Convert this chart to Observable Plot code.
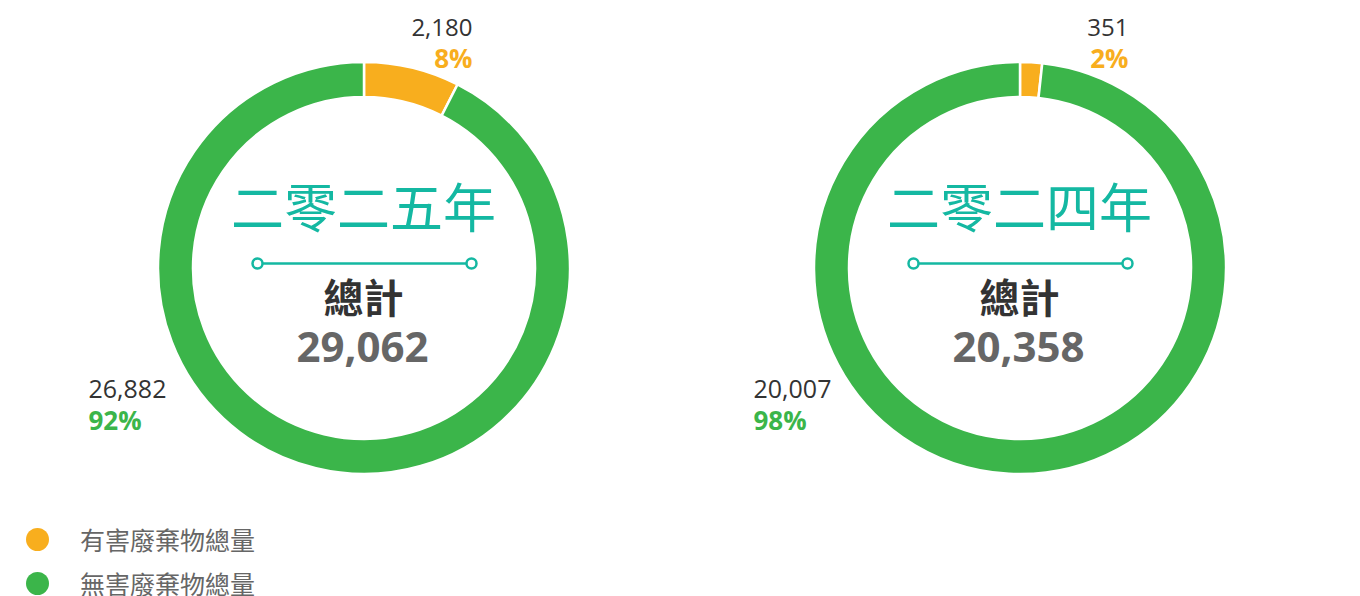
<!DOCTYPE html>
<html>
<head>
<meta charset="utf-8">
<script src="https://cdn.jsdelivr.net/npm/d3@7"></script>
<script src="https://cdn.jsdelivr.net/npm/@observablehq/plot@0.6"></script>
<style>
  body { margin: 0; background: #fff; font-family: "Open Sans", "Noto Sans CJK TC", sans-serif; }
  #row { display: flex; width: 1360px; }
  #legend { padding-top: 17px; }
  .item { display: flex; align-items: center; height: 44px; }
  .sw { width: 23px; height: 23px; border-radius: 50%; margin-left: 26px; margin-right: 31px; }
  .lab { font-family: "Noto Sans CJK TC", sans-serif; font-size: 25px; line-height: 25px; color: #666; }
</style>
</head>
<body>
<div id="row"></div>
<div id="legend"></div>
<script>
// ---- data ----
const years = ["二零二五年", "二零二四年"];
const types = ["有害廢棄物總量", "無害廢棄物總量"];
const hazardous = [2180, 351];
const nonHazardous = [26882, 20007];
const totals = [29062, 20358];
const hazardousPct = ["8%", "2%"];
const nonHazardousPct = ["92%", "98%"];
const totalLabel = "總計";
const colors = ["#F8AE1E", "#3BB54A"];
const teal = "#14B8A2";

// ---- layout constants (pixels relative to each donut centre) ----
const W = 680, H = 500, CY = 268;
const outerR = 206, innerR = 171;
const fontCJK = "Noto Sans CJK TC, sans-serif";
const fontLatin = "Open Sans, Noto Sans CJK TC, sans-serif";
const greenLabelX = [-276, -267];
const fmt = d3.format(",");

function donutPlot(i, cx) {
  const data = [
    {type: types[0], value: hazardous[i]},
    {type: types[1], value: nonHazardous[i]}
  ];
  const arcs = d3.pie().sort(null).value(d => d.value)(data);
  const arcGen = d3.arc();
  const donut = Plot.dot(arcs, {
    x: () => 0, y: () => 0, fill: d => d.data.type,
    render(index, scales, values) {
      const k = scales.x(1) - scales.x(0);
      const g = d3.create("svg:g");
      for (const j of index) {
        g.append("path")
          .attr("d", arcGen({innerRadius: innerR * k, outerRadius: outerR * k,
                             startAngle: arcs[j].startAngle, endAngle: arcs[j].endAngle}))
          .attr("transform", `translate(${values.x[j]},${values.y[j]})`)
          .attr("fill", values.fill[j])
          .attr("stroke", "white").attr("stroke-width", 2.5);
      }
      return g.node();
    }
  });
  const ends = [{x: -107}, {x: 107}];
  return Plot.plot({
    width: W, height: H,
    margin: 0,
    x: {domain: [-cx, W - cx], axis: null},
    y: {domain: [CY - H, CY], axis: null},
    color: {domain: types, range: colors},
    marks: [
      donut,
      Plot.text([years[i]], {x: -1, y: 57, text: d => d, fontSize: 53, fill: teal, fontFamily: fontCJK}),
      Plot.ruleY([5], {x1: -107, x2: 107, stroke: teal, strokeWidth: 2.5}),
      Plot.dot(ends, {x: "x", y: () => 5, r: 5, fill: "white", stroke: teal, strokeWidth: 2.5}),
      Plot.text([totalLabel], {x: -1, y: -32, text: d => d, fontSize: 40, fontWeight: "bold", fill: "#333", fontFamily: fontCJK}),
      Plot.text([totals[i]], {x: -2, y: -80, text: d => fmt(d), fontSize: 42, fontWeight: "bold", fill: "#666", fontFamily: fontLatin}),
      Plot.text([hazardous[i]], {x: 108, y: 240, text: d => fmt(d), textAnchor: "end", fontSize: 24, fill: "#333", fontFamily: fontLatin}),
      Plot.text([hazardousPct[i]], {x: 108, y: 209, text: d => d, textAnchor: "end", fontSize: 26, fontWeight: "bold", fill: colors[0], fontFamily: fontLatin}),
      Plot.text([nonHazardous[i]], {x: greenLabelX[i], y: -121, text: d => fmt(d), textAnchor: "start", fontSize: 25, fill: "#333", fontFamily: fontLatin}),
      Plot.text([nonHazardousPct[i]], {x: greenLabelX[i], y: -153, text: d => d, textAnchor: "start", fontSize: 26, fontWeight: "bold", fill: colors[1], fontFamily: fontLatin})
    ]
  });
}

const row = document.getElementById("row");
row.append(donutPlot(0, 364));
row.append(donutPlot(1, 340));

const legend = document.getElementById("legend");
types.forEach((t, k) => {
  const item = document.createElement("div");
  item.className = "item";
  const sw = document.createElement("div");
  sw.className = "sw"; sw.style.background = colors[k];
  const lab = document.createElement("span");
  lab.className = "lab"; lab.textContent = t;
  item.append(sw, lab);
  legend.append(item);
});
</script>
</body>
</html>
